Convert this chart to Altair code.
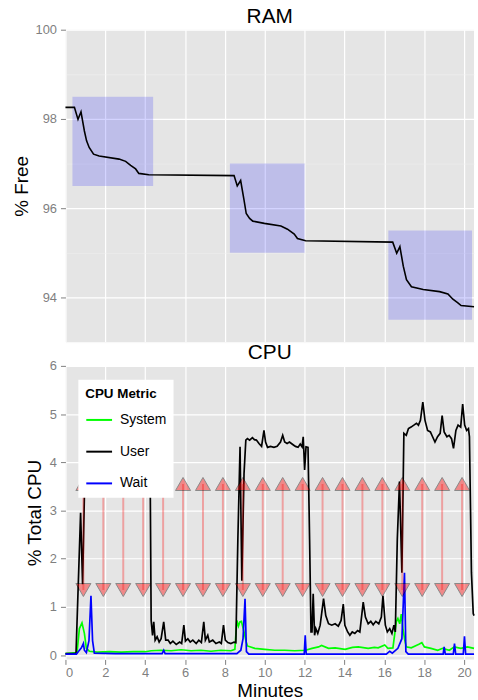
import altair as alt
import pandas as pd

FONT = "Liberation Sans"

# ---------------- RAM panel data ----------------
ram_minutes = [0.0, 0.45, 0.63, 0.78, 0.95, 1.06, 1.19, 1.41, 1.69, 2.69, 3.02, 3.27, 3.52, 3.68, 4.18,
               8.46, 8.62, 8.79, 8.96, 9.07, 9.24, 9.40, 9.98, 10.81, 11.14, 11.48, 11.64, 12.05,
               16.42, 16.62, 16.78, 16.95, 17.11, 17.36, 17.95, 18.77, 19.19, 19.44, 19.69, 19.85, 20.5]
ram_free = [98.26, 98.26, 97.99, 98.16, 97.73, 97.51, 97.36, 97.21, 97.17, 97.10, 97.05, 96.96, 96.88, 96.78, 96.75,
            96.73, 96.50, 96.62, 96.18, 95.88, 95.77, 95.71, 95.66, 95.60, 95.53, 95.42, 95.32, 95.27,
            95.24, 94.99, 95.14, 94.70, 94.40, 94.24, 94.18, 94.13, 94.08, 93.96, 93.88, 93.82, 93.79]

box_start = [0.35, 8.25, 16.2]
box_end = [4.4, 12.0, 20.4]
box_low = [96.5, 95.0, 93.5]
box_high = [98.5, 97.0, 95.5]

# ---------------- CPU panel data ----------------
user_min = [0.0, 0.53, 0.76, 0.86, 0.95, 1.05, 1.5, 2.0, 2.5, 3.0, 3.5, 4.0, 4.24, 4.3, 4.37, 4.43, 4.5, 4.6,
            4.7, 4.8, 4.93, 5.03, 5.15, 5.26, 5.39, 5.56, 5.73, 5.83, 5.94, 6.02, 6.14, 6.26, 6.39, 6.56, 6.69,
            6.82, 6.94, 7.02, 7.14, 7.22, 7.39, 7.55, 7.72, 7.82, 7.93, 8.02, 8.15, 8.3, 8.46, 8.55, 8.65, 8.76,
            8.85, 8.96, 9.05, 9.13, 9.24, 9.38, 9.48, 9.58, 9.71, 9.84, 9.96, 10.04, 10.14, 10.29, 10.46, 10.62,
            10.79, 10.9, 11.0, 11.12, 11.24, 11.37, 11.54, 11.67, 11.78, 11.87, 11.93, 12.0, 12.07, 12.17, 12.25,
            12.32, 12.37, 12.43, 12.5, 12.56, 12.66, 12.78, 12.95, 13.06, 13.2, 13.36, 13.53, 13.69, 13.83, 13.94,
            14.02, 14.16, 14.27, 14.39, 14.52, 14.66, 14.77, 14.94, 15.05, 15.19, 15.32, 15.44, 15.57, 15.72,
            15.85, 15.93, 16.05, 16.15, 16.27, 16.38, 16.48, 16.55, 16.65, 16.76, 16.88, 16.98, 17.1, 17.21,
            17.34, 17.48, 17.61, 17.71, 17.81, 17.93, 18.04, 18.17, 18.31, 18.42, 18.54, 18.67, 18.8, 18.9, 19.0,
            19.14, 19.25, 19.37, 19.47, 19.59, 19.7, 19.83, 19.93, 20.03, 20.13, 20.22, 20.27, 20.37, 20.46, 20.5]
user_val = [0.03, 0.03, 2.95, 1.47, 3.3, 4.3, 4.45, 4.5, 4.4, 4.5, 4.4, 4.45, 4.4, 0.72, 0.41, 0.69, 0.31, 0.38,
            0.27, 0.34, 0.69, 0.31, 0.31, 0.24, 0.29, 0.22, 0.27, 0.24, 0.62, 0.29, 0.34, 0.27, 0.31, 0.24, 0.31,
            0.26, 0.69, 0.31, 0.41, 0.27, 0.31, 0.24, 0.27, 0.24, 0.62, 0.31, 0.26, 0.24, 0.27, 0.26, 2.4, 4.32,
            1.54, 3.77, 4.46, 4.49, 4.46, 4.51, 4.47, 4.46, 4.39, 4.33, 4.66, 4.42, 4.31, 4.33, 4.31, 4.33,
            4.42, 4.56, 4.42, 4.39, 4.42, 4.38, 4.33, 4.31, 4.38, 4.32, 4.53, 3.84, 4.32, 4.31, 2.4,
            0.48, 0.48, 1.27, 0.41, 0.55, 0.45, 0.62, 1.17, 0.82, 0.65, 0.62, 0.65, 0.6, 0.72, 1.06,
            0.62, 0.48, 0.41, 0.48, 0.45, 0.51, 0.48, 1.1, 0.79, 0.65, 0.7, 0.63, 0.7, 0.65,
            0.79, 1.23, 0.62, 0.48, 0.55, 0.45, 0.62, 0.48, 2.4, 3.6, 1.71, 4.6, 4.56, 4.7,
            4.73, 4.77, 4.81, 4.77, 4.87, 5.25, 4.87, 4.66, 4.63, 4.53, 4.42, 4.53, 4.6, 4.97, 4.63,
            4.53, 4.56, 4.49, 4.29, 4.66, 4.77, 4.73, 5.21, 4.77, 4.66, 4.7, 4.53, 1.71, 0.86, 0.82]

system_min = [0.0, 0.58, 0.7, 0.83, 0.95, 1.05, 1.2, 1.6, 2.2, 2.8, 3.4, 4.0, 4.3, 4.8, 5.3, 5.8, 6.3, 6.8, 7.3,
              7.8, 8.3, 8.5, 8.6, 8.68, 8.75, 8.83, 8.96, 9.07, 9.13, 9.5, 10.0, 10.5, 11.0, 11.5, 12.04, 12.37,
              12.7, 12.85, 13.2, 13.53, 14.03, 14.4, 14.69, 15.19, 15.5, 15.69, 16.02, 16.18, 16.43, 16.6, 16.68,
              16.77, 16.85, 16.93, 17.02, 17.1, 17.35, 17.6, 17.76, 17.88, 18.01, 18.34, 18.68, 18.92, 19.26,
              19.51, 19.84, 20.17, 20.5]
system_val = [0.03, 0.05, 0.55, 0.67, 0.45, 0.14, 0.08, 0.06, 0.07, 0.06, 0.07, 0.07, 0.09, 0.1, 0.09, 0.11, 0.09,
              0.1, 0.08, 0.1, 0.09, 0.12, 0.72, 0.6, 0.69, 0.7, 0.48, 0.27, 0.19, 0.14, 0.12, 0.1, 0.1, 0.09, 0.1,
              0.14, 0.17, 0.2, 0.14, 0.15, 0.12, 0.16, 0.17, 0.14, 0.16, 0.15, 0.21, 0.14, 0.15, 0.69, 0.76, 0.65,
              0.85, 0.55, 0.32, 0.17, 0.15, 0.2, 0.23, 0.26, 0.17, 0.14, 0.1, 0.14, 0.1, 0.17, 0.14, 0.17, 0.14]

wait_min = [0.0, 0.55, 0.66, 0.8, 0.9, 0.95, 1.05, 1.18, 1.28, 1.36, 1.45, 2.5, 4.85, 4.93, 5.0, 8.6, 8.8, 8.91,
            9.01, 9.08, 9.2, 11.98, 12.03, 12.08, 16.1, 16.27, 16.4, 16.68, 16.88, 17.01, 17.08, 17.2, 18.95,
            19.0, 19.06, 19.46, 19.52, 19.58, 19.96, 20.02, 20.08, 20.5]
wait_val = [0.02, 0.02, 0.08, 0.15, 0.24, 0.1, 0.05, 0.3, 1.23, 0.3, 0.04, 0.03, 0.03, 0.1, 0.03, 0.03, 0.1, 0.34,
            1.17, 0.07, 0.02, 0.02, 0.41, 0.02, 0.02, 0.08, 0.04, 0.14, 0.34, 1.71, 0.07, 0.02, 0.02, 0.17, 0.02,
            0.02, 0.24, 0.02, 0.02, 0.39, 0.02, 0.02]

metric_names = ["System", "User", "Wait"]
metric_colors = ["#00FF00", "#000000", "#0000FF"]

arrow_minutes = [0.9, 1.9, 2.9, 3.9, 4.9, 5.9, 6.9, 7.9, 8.9, 9.9, 10.9, 11.9, 12.9, 13.9, 14.9, 15.9,
                 16.9, 17.9, 18.9, 19.9]
arrow_top = 3.55
arrow_bottom = 1.35

x_ticks = list(range(0, 21))
ram_ticks = list(range(93, 101))
cpu_ticks = [0, 0.5, 1, 1.5, 2, 2.5, 3, 3.5, 4, 4.5, 5, 5.5, 6]

# ---------------- tables ----------------
ram_df = pd.DataFrame({"minute": ram_minutes, "free": ram_free})
box_df = pd.DataFrame({"x1": box_start, "x2": box_end, "y1": box_low, "y2": box_high})
cpu_df = pd.concat([
    pd.DataFrame({"minute": system_min, "value": system_val, "metric": "System"}),
    pd.DataFrame({"minute": user_min, "value": user_val, "metric": "User"}),
    pd.DataFrame({"minute": wait_min, "value": wait_val, "metric": "Wait"}),
], ignore_index=True)
arrow_df = pd.DataFrame({"minute": arrow_minutes,
                         "top": [arrow_top] * len(arrow_minutes),
                         "bottom": [arrow_bottom] * len(arrow_minutes)})

GREY = "#7F7F7F"
W = 412
x_dom = [0, 20.5]
EVEN = "datum.value % 2 == 0"


def grid_axis(test, **kw):
    return alt.Axis(
        values=kw.pop("values"),
        gridColor=alt.condition(test, alt.value("#FFFFFF"), alt.value("#F2F2F2")),
        gridWidth=alt.condition(test, alt.value(1.2), alt.value(0.6)),
        tickOpacity=alt.condition(test, alt.value(1), alt.value(0)),
        labelExpr=f"({test}) ? datum.label : ''",
        domain=False, tickColor=GREY, tickSize=5, labelColor=GREY, labelFontSize=13,
        labelFont=FONT, titleFont=FONT, titleFontSize=19, titleFontWeight="normal",
        titleColor="black", **kw)


y_ram_scale = alt.Scale(domain=[93.0, 100], nice=False, zero=False)

boxes = alt.Chart(box_df).mark_rect(color="#0000FF", opacity=0.17).encode(
    x=alt.X("x1:Q", scale=alt.Scale(domain=x_dom, nice=False, zero=False),
            axis=alt.Axis(values=x_ticks, labels=False, ticks=False, domain=False, title=None,
                          gridColor=alt.condition(EVEN, alt.value("#FFFFFF"), alt.value("#F2F2F2")),
                          gridWidth=alt.condition(EVEN, alt.value(1.2), alt.value(0.6)))),
    x2="x2:Q",
    y=alt.Y("y1:Q", scale=y_ram_scale,
            axis=grid_axis(EVEN, values=ram_ticks, title="% Free", titlePadding=4, labelPadding=4)),
    y2="y2:Q",
)
ram_line = alt.Chart(ram_df).mark_line(color="black", strokeWidth=1.6).encode(
    x=alt.X("minute:Q"), y=alt.Y("free:Q"))

ram = alt.layer(boxes, ram_line).properties(
    width=W, height=315,
    title=alt.TitleParams("RAM", fontSize=21, font=FONT, fontWeight="normal", color="black", offset=-3))

x_bottom = alt.X("minute:Q", scale=alt.Scale(domain=x_dom, nice=False, zero=False),
                 axis=grid_axis(EVEN, values=x_ticks, title="Minutes", labelPadding=2, titlePadding=2))

cpu_lines = alt.Chart(cpu_df).mark_line(strokeWidth=1.7).encode(
    x=x_bottom,
    y=alt.Y("value:Q", scale=alt.Scale(domain=[-0.09, 6], nice=False, zero=False),
            axis=grid_axis("datum.value % 1 == 0", values=cpu_ticks, title="% Total CPU",
                           titlePadding=5, labelPadding=4)),
    color=alt.Color("metric:N", scale=alt.Scale(domain=metric_names, range=metric_colors),
                    legend=alt.Legend(title="CPU Metric", orient="none", legendX=13, legendY=14,
                                      fillColor="white", padding=7, titleFont=FONT, titleFontSize=13.5,
                                      titleFontWeight="bold", titleColor="black", titlePadding=6,
                                      labelFont=FONT, labelFontSize=14, labelColor="black",
                                      symbolType="stroke", symbolStrokeWidth=2, symbolSize=676,
                                      labelOffset=7, rowPadding=11, zindex=1)),
)
arrow_rules = alt.Chart(arrow_df).mark_rule(color="red", strokeWidth=2, opacity=0.3).encode(
    x="minute:Q", y="bottom:Q", y2="top:Q")
up_tri = alt.Chart(arrow_df).mark_point(shape="triangle-up", filled=True, size=230, fill="red",
                                        stroke="black", strokeWidth=1, opacity=0.4).encode(
    x="minute:Q", y="top:Q")
down_tri = alt.Chart(arrow_df).mark_point(shape="triangle-down", filled=True, size=230, fill="red",
                                          stroke="black", strokeWidth=1, opacity=0.4).encode(
    x="minute:Q", y="bottom:Q")

cpu = alt.layer(cpu_lines, arrow_rules, up_tri, down_tri).properties(
    width=W, height=296,
    title=alt.TitleParams("CPU", fontSize=21, font=FONT, fontWeight="normal", color="black", offset=-3))

chart = alt.vconcat(ram, cpu, spacing=0).resolve_scale(
    x="independent", y="independent", color="independent"
).resolve_legend(color="independent").properties(
    padding={"left": 12, "top": 3, "right": 0, "bottom": 0},
    background="white",
).configure_view(fill="#E5E5E5", stroke=None)

chart.save("out.html", embed_options={"renderer": "svg", "actions": False})
